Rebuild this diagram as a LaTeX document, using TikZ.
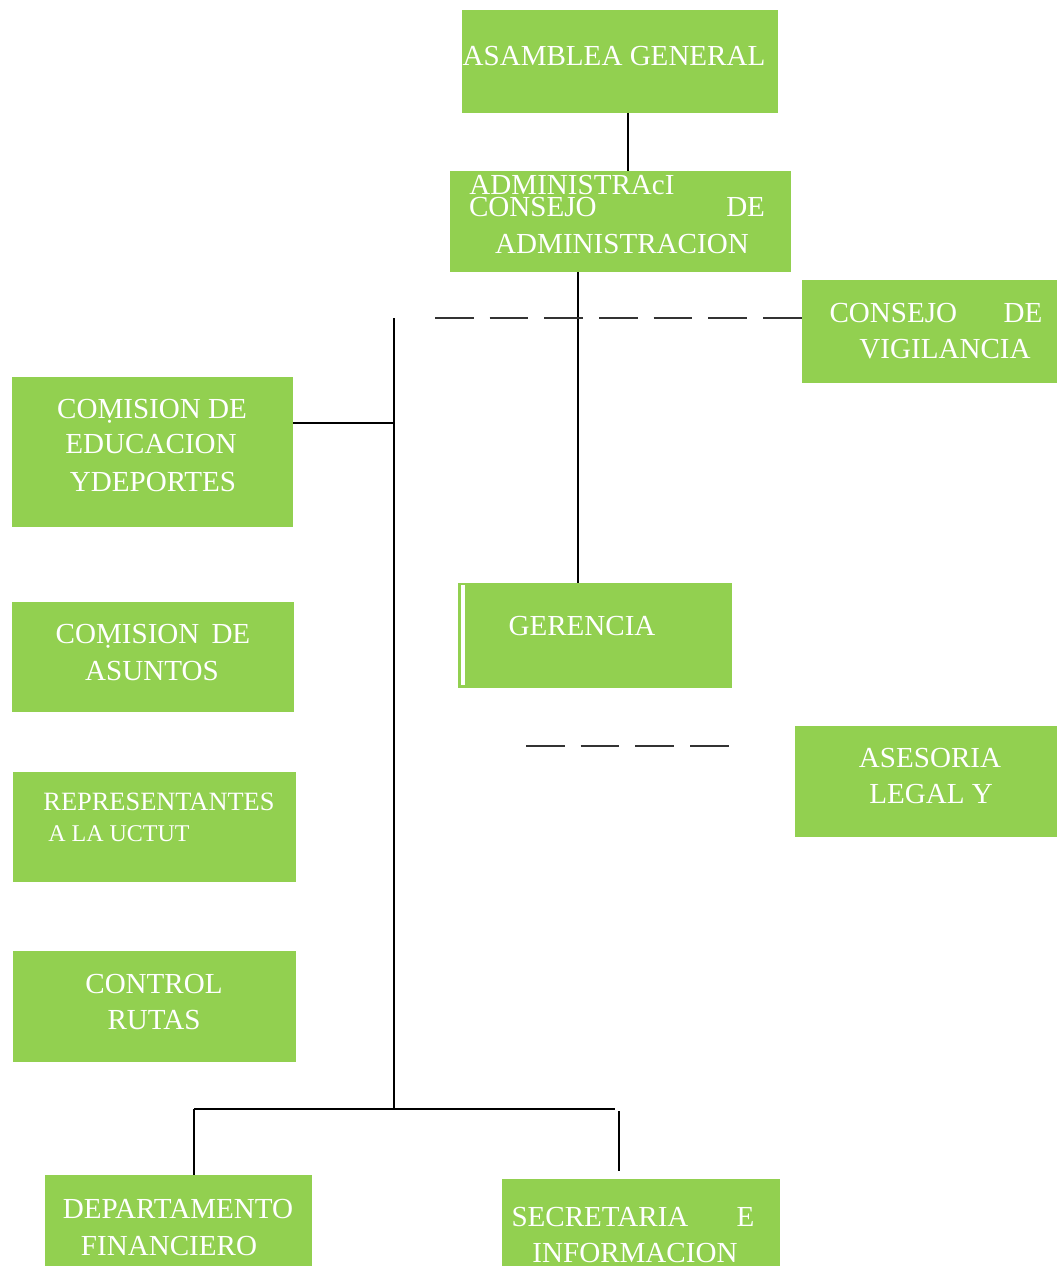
\documentclass[tikz,border=0pt]{standalone}
\usepackage{fontspec}
\setmainfont{Liberation Serif}
\usetikzlibrary{fit}
\definecolor{boxgreen}{HTML}{92D050}

\begin{document}
\begin{tikzpicture}[x=0.75pt, y=-0.75pt,
  box/.style={fill=boxgreen, inner sep=0pt, outer sep=0pt},
  lbl/.style={text=white, anchor=base, inner sep=0pt, font=\fontsize{21.8}{26}\selectfont},
  lblsmall/.style={lbl, font=\fontsize{19.8}{24}\selectfont},
  lbltiny/.style={lbl, font=\fontsize{18}{22}\selectfont},
  link/.style={line width=2pt},
  dashlink/.style={line width=1.2pt, black!80, dash pattern=on 29pt off 12pt}]

\useasboundingbox (0,0) rectangle (1057,1266);

% boxes
\node[box, fit={(462,10) (778,113)}] (asamblea) {};
\node[box, fit={(450,171) (791,272)}] (admin) {};
\node[box, fit={(802,280) (1057,383)}] (vigilancia) {};
\node[box, fit={(12,377) (293,527)}] (educacion) {};
\node[box, fit={(12,602) (294,712)}] (asuntos) {};
\node[box, fit={(13,772) (296,882)}] (uctut) {};
\node[box, fit={(13,951) (296,1062)}] (rutas) {};
\node[box, fit={(458,583) (732,688)}] (gerencia) {};
\node[box, fit={(795,726) (1057,837)}] (asesoria) {};
\node[box, fit={(45,1175) (312,1266)}] (financiero) {};
\node[box, fit={(502,1179) (780,1266)}] (secretaria) {};

\draw[white, line width=2.5pt] (463,585) -- (463,685);

% texts
\node[lbl] (asambleaT) at (614,66) {ASAMBLEA GENERAL};
\node[lbl] (adminT1) at (572,195) {ADMINISTRAcI};
\node[lbl] (adminT2) at (617,217) {\makebox[222pt]{CONSEJO\hfill DE}};
\node[lbl] (adminT3) at (622,253) {ADMINISTRACION};
\node[lbl] (vigilanciaT1) at (936,322) {\makebox[159.75pt]{CONSEJO\hfill DE}};
\node[lbl] (vigilanciaT2) at (945,358) {VIGILANCIA};
\node[lbl] (educacionT1) at (152,418) {COṂISION DE};
\node[lbl] (educacionT2) at (151,453) {EDUCACION};
\node[lbl] (educacionT3) at (153,491) {YDEPORTES};
\node[lbl] (asuntosT1) at (153,643) {COṂISION\, DE};
\node[lbl] (asuntosT2) at (152,680) {ASUNTOS};
\node[lblsmall] (uctutT1) at (159,810) {REPRESENTANTES};
\node[lbltiny, anchor=base west] (uctutT2) at (48,841) {A LA UCTUT};
\node[lbl] (rutasT1) at (154,993) {CONTROL};
\node[lbl] (rutasT2) at (154,1029) {RUTAS};
\node[lbl] (gerenciaT) at (582,635) {GERENCIA};
\node[lbl] (asesoriaT1) at (930,767) {ASESORIA};
\node[lbl] (asesoriaT2) at (931,803) {LEGAL Y};
\node[lbl] (financieroT1) at (178,1218) {DEPARTAMENTO};
\node[lbl] (financieroT2) at (169,1255) {FINANCIERO};
\node[lbl] (secretariaT1) at (633,1226) {\makebox[182.25pt]{SECRETARIA\hfill E}};
\node[lbl] (secretariaT2) at (635,1262) {INFORMACION};

% connectors
\coordinate (tA) at (628,0);
\coordinate (tB) at (578,0);
\coordinate (trTop) at (394,318);
\coordinate (trBot) at (394,1109);
\coordinate (jE) at (394,423);
\coordinate (bL) at (194,1109);
\coordinate (bR) at (615,1109);
\coordinate (dR) at (619,1111);
\coordinate (dRend) at (619,1171);
\coordinate (dS) at (435,318);
\coordinate (gS) at (526,746);
\coordinate (gE) at (730,746);

\draw[link] (asamblea.south -| tA) -- (admin.north -| tA);
\draw[link] (admin.south -| tB) -- (gerencia.north -| tB);
\draw[link] (trTop) -- (trBot);
\draw[link] (educacion.east |- jE) -- (jE);
\draw[link] (bL) -- (bR);
\draw[link] (bL) -- (financiero.north -| bL);
\draw[link] (dR) -- (dRend);
\draw[dashlink] (dS) -- (dS -| vigilancia.west);
\draw[dashlink] (gS) -- (gE);
\end{tikzpicture}
\end{document}
